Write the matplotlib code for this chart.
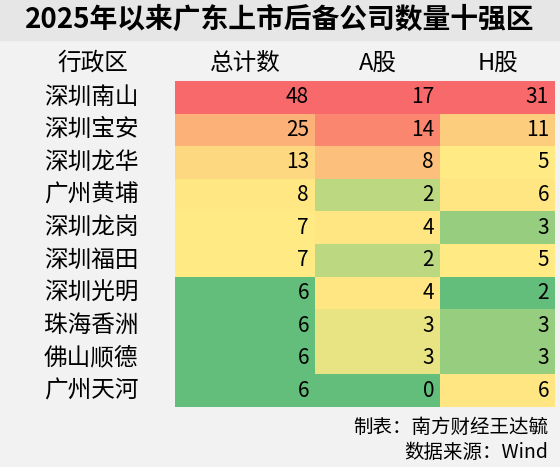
import matplotlib
matplotlib.use("Agg")
import matplotlib.pyplot as plt
import numpy as np
from matplotlib.colors import LinearSegmentedColormap

plt.rcParams['font.family'] = ['Noto Sans CJK SC', 'DejaVu Sans']

title = "2025年以来广东上市后备公司数量十强区"
headers = ["行政区", "总计数", "A股", "H股"]
districts = ["深圳南山", "深圳宝安", "深圳龙华", "广州黄埔", "深圳龙岗", "深圳福田",
             "深圳光明", "珠海香洲", "佛山顺德", "广州天河"]
total = [48, 25, 13, 8, 7, 7, 6, 6, 6, 6]
a_share = [17, 14, 8, 2, 4, 2, 4, 3, 3, 0]
h_share = [31, 11, 5, 6, 3, 5, 2, 3, 3, 6]
footer = ["制表：南方财经王达毓", "数据来源：Wind"]

cmap = LinearSegmentedColormap.from_list("x", ["#63be7b", "#ffeb84", "#f8696b"])

def colors(vals):
    v = np.array(vals, float)
    lo, mid, hi = v.min(), np.median(v), v.max()
    out = []
    for x in v:
        if x <= mid:
            t = 0.5 * (x - lo) / (mid - lo) if mid > lo else 0.5
        else:
            t = 0.5 + 0.5 * (x - mid) / (hi - mid)
        out.append(cmap(t))
    return out

W, H = 560, 467
fig = plt.figure(figsize=(W/100, H/100), dpi=100)
fig.patch.set_facecolor("#f2f2f2")
ax = fig.add_axes([0, 0, 1, 1])
ax.set_xlim(0, W); ax.set_ylim(H, 0); ax.axis("off")

ax.add_patch(plt.Rectangle((0, 0), W, 40, color="#e6e6e6", zorder=0))
ax.text(W/2, 20, title, ha="center", va="center", fontsize=20, fontweight="bold")

cols = [(10, 175), (175, 315), (315, 440), (440, 555)]
hy = 63
for (x0, x1), h in zip(cols, headers):
    ax.text((x0+x1)/2, hy, h, ha="center", va="center", fontsize=17)

top, rh = 81, 32.6
series = [total, a_share, h_share]
cols_c = [colors(s) for s in series]
for i, d in enumerate(districts):
    y = top + i*rh
    ax.text(91, y + rh/2, d, ha="center", va="center", fontsize=17)
    for j, s in enumerate(series):
        x0, x1 = cols[j+1]
        ax.add_patch(plt.Rectangle((x0, y), x1-x0, rh, color=cols_c[j][i], lw=0))
        ax.text(x1 - 6, y + rh/2, str(s[i]), ha="right", va="center", fontsize=15)

ax.text(548, 427, footer[0], ha="right", va="center", fontsize=14)
ax.text(548, 452, footer[1], ha="right", va="center", fontsize=14)

fig.savefig("out.png", dpi=100, facecolor=fig.get_facecolor())
